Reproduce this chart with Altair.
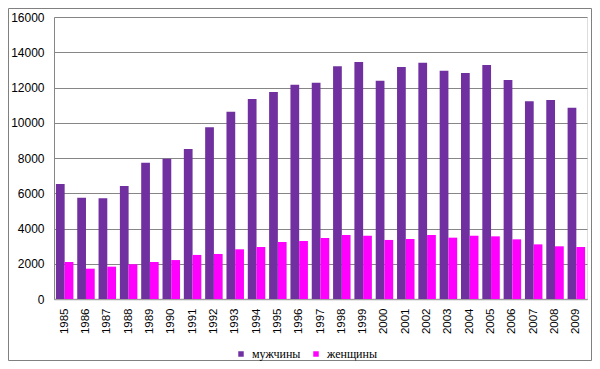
import altair as alt
import pandas as pd

years = [str(y) for y in range(1985, 2010)]
men = [6525, 5750, 5710, 6410, 7735, 7960, 8510, 9742, 10630, 11350,
       11745, 12160, 12275, 13200, 13450, 12390, 13160, 13410, 12955, 12820,
       13280, 12425, 11215, 11290, 10855]
women = [2100, 1720, 1835, 1970, 2100, 2210, 2500, 2555, 2820, 2950,
         3235, 3290, 3460, 3630, 3590, 3350, 3405, 3630, 3480, 3590,
         3555, 3385, 3100, 2990, 2950]
series = ["мужчины", "женщины"]
colors = ["#7030A0", "#FF00FF"]
y_ticks = [0, 2000, 4000, 6000, 8000, 10000, 12000, 14000, 16000]

rows = []
for i, y in enumerate(years):
    rows.append({"год": y, "пол": series[0], "значение": men[i]})
    rows.append({"год": y, "пол": series[1], "значение": women[i]})
df = pd.DataFrame(rows)

W, H = 533, 282

bars = alt.Chart(df).mark_bar().encode(
    x=alt.X("год:N", sort=years, title=None,
            scale=alt.Scale(paddingInner=0.18, paddingOuter=0.09),
            axis=alt.Axis(labelAngle=270, labelFont="Liberation Sans", labelFontSize=11.5,
                          labelColor="#000000", labelPadding=9, ticks=False,
                          domainColor="#A0A0A0", domainWidth=1.5, grid=False)),
    xOffset=alt.XOffset("пол:N", sort=series, scale=alt.Scale(paddingInner=0, paddingOuter=0)),
    y=alt.Y("значение:Q", title=None,
            scale=alt.Scale(domain=[0, 16000], nice=False),
            axis=alt.Axis(values=y_ticks, format="d", labelFont="Liberation Sans", labelFontSize=12,
                          labelColor="#000000", labelPadding=10, ticks=False,
                          domainColor="#868686", gridColor="#868686", gridWidth=1)),
    color=alt.Color("пол:N", sort=series,
                    scale=alt.Scale(domain=series, range=colors),
                    legend=alt.Legend(title=None, orient="none", direction="horizontal",
                                      legendX=181, legendY=331, symbolType="square",
                                      symbolSize=30, symbolStrokeWidth=0,
                                      labelFont="Liberation Serif", labelFontSize=12,
                                      labelColor="#000000", labelOffset=5,
                                      columnPadding=9)),
)

border = alt.Chart(pd.DataFrame({"a": [0]})).mark_rect(
    fill=None, stroke="#808080", strokeWidth=1
).encode(
    x=alt.value(-45.5), x2=alt.value(W + 4.5),
    y=alt.value(-8.5), y2=alt.value(H + 61.5),
)

chart = alt.layer(bars, border).properties(
    width=W, height=H,
    autosize=alt.AutoSizeParams(type="none"),
    padding={"left": 46, "top": 9, "right": 5, "bottom": 62},
).configure_view(stroke=None).configure(background="white")

chart.save("out.html", embed_options={"renderer": "svg", "actions": False})
